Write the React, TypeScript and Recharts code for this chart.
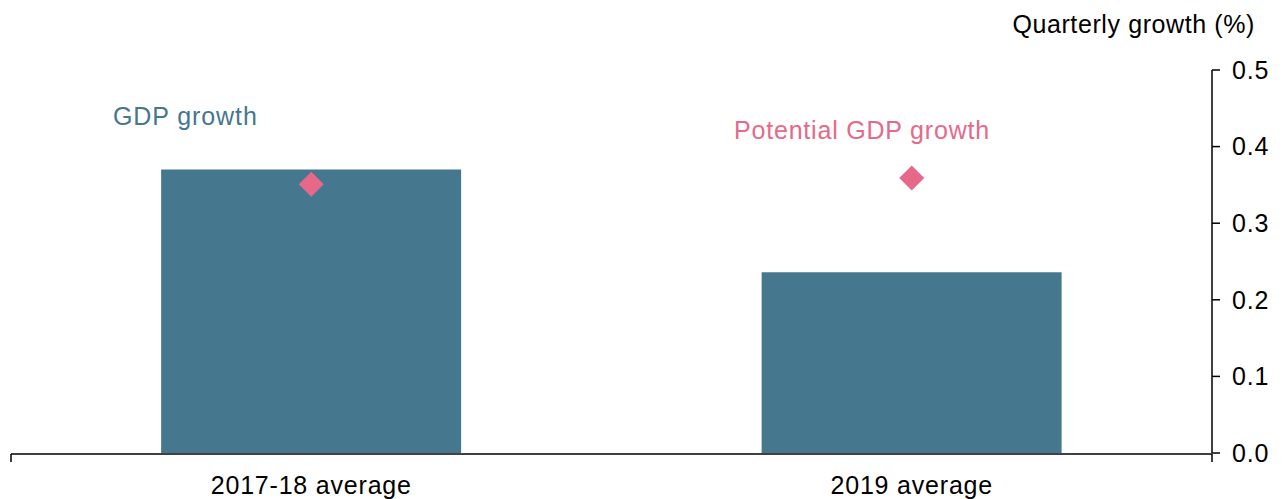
import { ComposedChart, Bar, Scatter, XAxis, YAxis } from "recharts";

const categories = ["2017-18 average", "2019 average"];
const gdpGrowth = [0.37, 0.236];
const potentialGrowth = [0.351, 0.359];
const yTicks = [0, 0.1, 0.2, 0.3, 0.4, 0.5];
const edgeTicks = [0, 1, 2];

const BAR_COLOR = "#45778E";
const DOT_COLOR = "#E6698A";
const FONT = "'Liberation Sans', Arial, sans-serif";

const data = categories.map((name, i) => ({
  name,
  gdp: gdpGrowth[i],
  potential: potentialGrowth[i],
}));

const Diamond = (props: any) => {
  const { cx, cy } = props;
  const r = 12.5;
  return (
    <polygon
      points={`${cx},${cy - r} ${cx + r},${cy} ${cx},${cy + r} ${cx - r},${cy}`}
      fill={DOT_COLOR}
    />
  );
};

const textStyle = { fontFamily: FONT, fontSize: 25, letterSpacing: 0.8, fill: "#000" };

const App = () => (
  <div style={{ position: "absolute", left: 0, top: 0, width: 1284, height: 499 }}>
    <ComposedChart
      width={1284}
      height={499}
      data={data}
      margin={{ top: 70, right: 0, left: 11, bottom: 0 }}
      barCategoryGap="25%"
    >
      <XAxis
        xAxisId="cat"
        dataKey="name"
        height={1}
        axisLine={false}
        tickLine={false}
        tickSize={0}
        tickMargin={23}
        tick={textStyle}
      />
      <XAxis
        xAxisId="edges"
        type="number"
        domain={[0, 2]}
        allowDataOverflow
        ticks={edgeTicks}
        tickFormatter={() => ""}
        tickSize={8}
        height={45}
        axisLine={{ stroke: "#000", strokeWidth: 1.5 }}
        tickLine={{ stroke: "#000", strokeWidth: 1.5 }}
      />
      <YAxis
        orientation="right"
        width={72}
        domain={[0, 0.5]}
        ticks={yTicks}
        tickFormatter={(v: number) => v.toFixed(1)}
        tickSize={8}
        tickMargin={12}
        axisLine={{ stroke: "#000", strokeWidth: 1.5 }}
        tickLine={{ stroke: "#000", strokeWidth: 1.5 }}
        tick={textStyle}
      />
      <Bar xAxisId="cat" dataKey="gdp" fill={BAR_COLOR} isAnimationActive={false} />
      <Scatter xAxisId="cat" dataKey="potential" shape={Diamond} isAnimationActive={false} />
    </ComposedChart>
    <div
      style={{
        position: "absolute",
        right: 29,
        top: 10,
        fontFamily: FONT,
        fontSize: 25,
        letterSpacing: 0.6,
        color: "#000",
        whiteSpace: "nowrap",
      }}
    >
      Quarterly growth (%)
    </div>
    <div
      style={{
        position: "absolute",
        left: 113,
        top: 102,
        fontFamily: FONT,
        fontSize: 25,
        letterSpacing: 0.9,
        color: BAR_COLOR,
        whiteSpace: "nowrap",
      }}
    >
      GDP growth
    </div>
    <div
      style={{
        position: "absolute",
        left: 734,
        top: 116,
        fontFamily: FONT,
        fontSize: 25,
        letterSpacing: 0.8,
        color: DOT_COLOR,
        whiteSpace: "nowrap",
      }}
    >
      Potential GDP growth
    </div>
  </div>
);

export default App;
